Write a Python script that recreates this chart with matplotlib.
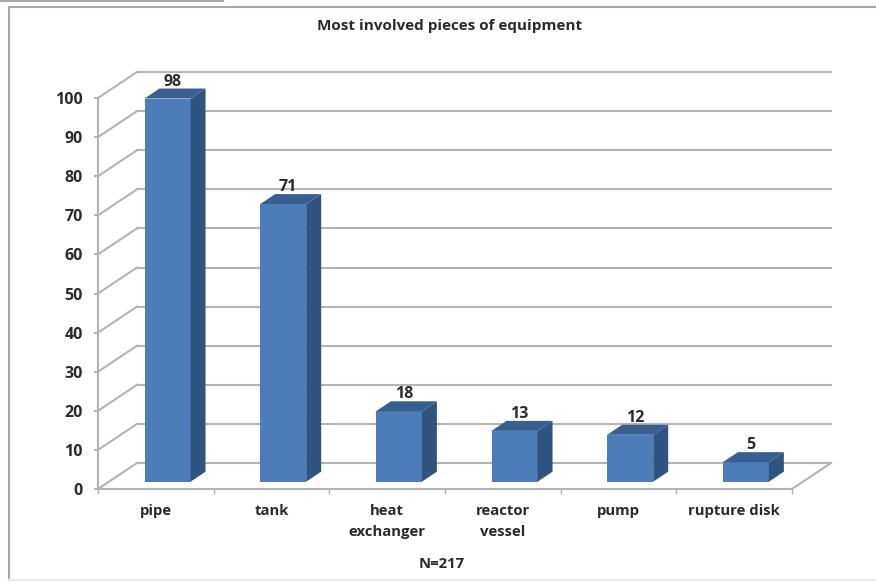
import numpy as np
import matplotlib.pyplot as plt
from matplotlib.lines import Line2D
from matplotlib.patches import Polygon

# data
categories = ['pipe', 'tank', 'heat\nexchanger', 'reactor\nvessel', 'pump', 'rupture disk']
values = [98, 71, 18, 13, 12, 5]
y_ticks = [0, 10, 20, 30, 40, 50, 60, 70, 80, 90, 100]

W, H = 876, 582
GRAY = '#b4b4b4'
TXT = '#2b2b2b'
FRONT, SIDE, TOP = '#4c7db8', '#2f5480', '#375f90'

plt.rcParams['font.family'] = ['Open Sans', 'DejaVu Sans']
plt.rcParams['font.weight'] = 'bold'

fig = plt.figure(figsize=(W / 100, H / 100), dpi=100, facecolor='white')
ax = fig.add_axes([98 / W, (H - 489) / H, 694 / W, 391 / H])
ax.set_xlim(0, len(categories))
ax.set_ylim(0, 100)

px_x = len(categories) / 694
px_y = 100 / 391

# 3d wall depth
dx = 39 * px_x
dy = 26 * px_y

# left wall, back wall and floor lines
for t in y_ticks:
    ax.plot([0, dx], [t, t + dy], color=GRAY, lw=1.5, clip_on=False, zorder=1)
    ax.plot([dx, len(categories) + dx], [t + dy, t + dy], color=GRAY, lw=1.5, clip_on=False, zorder=1)
ax.plot([len(categories), len(categories) + dx], [0, dy], color=GRAY, lw=1.5, clip_on=False, zorder=1)

# bars
x = np.arange(len(categories)) + 0.5
bw = 46 * px_x
off_x, off_y = 11.7 * px_x, 7.3 * px_y
side_x, side_y = 15 * px_x, 10 * px_y

ax.bar(x + off_x, values, width=bw, bottom=off_y, color=FRONT, zorder=3)
for xi, v in zip(x, values):
    l = xi + off_x - bw / 2
    r = xi + off_x + bw / 2
    t = v + off_y
    ax.add_patch(Polygon([(r, off_y), (r + side_x, off_y + side_y), (r + side_x, t + side_y), (r, t)],
                         closed=True, color=SIDE, lw=0, zorder=3, clip_on=False))
    ax.add_patch(Polygon([(l, t), (l + side_x, t + side_y), (r + side_x, t + side_y), (r, t)],
                         closed=True, color=TOP, lw=0, zorder=3, clip_on=False))
    ax.text(xi + off_x + 5 * px_x, t + side_y - 0.3, str(v), ha='center', va='bottom',
            fontsize=11.5, color=TXT, zorder=4, clip_on=False)

# axes
for s in ['top', 'right']:
    ax.spines[s].set_visible(False)
for s in ['left', 'bottom']:
    ax.spines[s].set_color(GRAY)
    ax.spines[s].set_linewidth(1.5)
ax.patch.set_alpha(0)

ax.set_yticks(y_ticks)
ax.tick_params(axis='y', length=3, width=1.5, color=GRAY, labelcolor=TXT, labelsize=11.5, pad=8)
ax.set_xticks(np.arange(len(categories) + 1))
ax.set_xticklabels([])
ax.tick_params(axis='x', which='major', direction='out', length=3.5, width=1, color=GRAY)
ax.set_xticks(x, minor=True)
ax.set_xticklabels(categories, minor=True, fontsize=10.7, color=TXT, linespacing=1.6)
ax.tick_params(axis='x', which='minor', length=0, pad=11)

# title and footnote
fig.text(450 / W, 1 - 26 / H, 'Most involved pieces of equipment', ha='center', va='center',
         fontsize=11, color=TXT)
fig.text(442 / W, 1 - 564 / H, 'N=217', ha='center', va='center', fontsize=10.7, color=TXT)

# chart frame
frame = [([9, 9], [580, 7]), ([9, 876], [7, 7]), ([9, 876], [580, 580]), ([0, 223], [1, 1])]
for xs, ys in frame:
    c = '#e3eeee' if ys[0] == 580 and ys[1] == 580 else '#a8a8a8'
    fig.add_artist(Line2D([a / W for a in xs], [1 - b / H for b in ys], color=c, lw=1.5))

fig.savefig('out.png', dpi=100)
